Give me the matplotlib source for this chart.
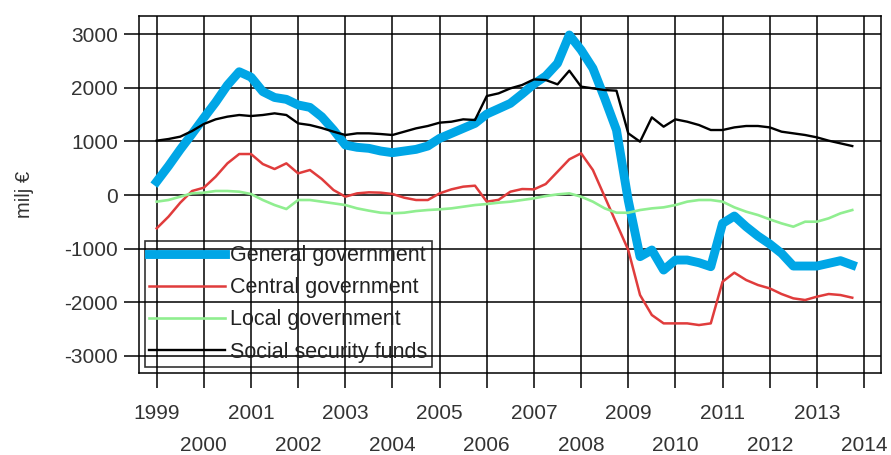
import numpy as np
import matplotlib.pyplot as plt
from matplotlib.ticker import FixedLocator

plt.rcParams['font.family'] = ['Liberation Sans', 'DejaVu Sans']

# quarterly data 1999Q1 .. 2013Q4, milj €
start_year = 1999
n_quarters = 60
general = [250, 540, 850, 1140, 1440, 1730, 2050, 2300, 2200, 1930,
           1820, 1785, 1680, 1635, 1460, 1213, 933, 890, 871, 821,
           790, 821, 852, 914, 1057, 1150, 1244, 1337, 1511, 1610,
           1710, 1885, 2071, 2220, 2457, 2986, 2706, 2364, 1804, 1213,
           -100, -1150, -1026, -1400, -1213, -1213, -1263, -1337, -529, -392,
           -591, -765, -914, -1088, -1325, -1325, -1325, -1275, -1225, -1306]
central = [-622, -404, -143, 75, 137, 342, 591, 765, 765, 578,
           485, 591, 404, 467, 300, 93, -31, 31, 50, 44,
           19, -50, -93, -93, 31, 106, 156, 174, -124, -90,
           62, 112, 106, 205, 435, 666, 778, 467, -31, -529,
           -1026, -1866, -2239, -2395, -2395, -2395, -2426, -2395, -1617, -1449,
           -1586, -1679, -1742, -1847, -1928, -1959, -1897, -1847, -1866, -1916]
local = [-124, -93, -31, 31, 44, 75, 75, 62, 19, -93,
         -187, -261, -93, -93, -124, -155, -187, -249, -292, -330,
         -342, -330, -299, -280, -267, -249, -218, -187, -168, -143,
         -124, -93, -62, -19, 12, 31, -31, -124, -249, -330,
         -330, -280, -249, -230, -187, -124, -93, -93, -124, -230,
         -311, -373, -454, -529, -591, -498, -498, -435, -342, -280]
social = [1014, 1045, 1089, 1194, 1325, 1412, 1462, 1493, 1474, 1493,
          1524, 1493, 1337, 1306, 1250, 1182, 1120, 1151, 1151, 1138,
          1120, 1182, 1244, 1288, 1350, 1368, 1412, 1400, 1847, 1897,
          1990, 2053, 2158, 2146, 2065, 2320, 2022, 1990, 1959, 1947,
          1151, 995, 1449, 1275, 1412, 1368, 1306, 1213, 1213, 1262,
          1288, 1288, 1262, 1182, 1151, 1120, 1076, 1014, 964, 914]
labels = ['General government', 'Central government', 'Local government',
          'Social security funds']
y_ticks = [-3000, -2000, -1000, 0, 1000, 2000, 3000]
odd_years = list(range(1999, 2015, 2))
even_years = list(range(2000, 2015, 2))

t = start_year + np.arange(n_quarters) / 4.0

fig = plt.figure(figsize=(8.91, 4.55), dpi=100)
ax = fig.add_axes([0.156, 0.1802, 0.8328, 0.7846])

ax.plot(t, general, color='#00a6e6', lw=6.4, solid_joinstyle='round', label=labels[0], zorder=3)
ax.plot(t, central, color='#e03c3c', lw=1.8, label=labels[1], zorder=3)
ax.plot(t, local, color='#90ee90', lw=1.9, label=labels[2], zorder=3)
ax.plot(t, social, color='black', lw=1.7, label=labels[3], zorder=3)

ax.set_xlim(1998.625, 2014.36)
ax.set_ylim(-3321, 3340)

ax.set_yticks(y_ticks)
ax.set_yticklabels([str(v) for v in y_ticks])
ax.xaxis.set_major_locator(FixedLocator(odd_years))
ax.xaxis.set_minor_locator(FixedLocator(even_years))
ax.set_xticklabels([str(y) for y in odd_years])
ax.set_xticklabels([str(y) for y in even_years], minor=True)

ax.grid(True, which='both', color='black', lw=1.1, zorder=1)
ax.set_axisbelow(True)
for s in ax.spines.values():
    s.set_linewidth(1.1)

ax.tick_params(axis='y', length=11, width=1.1, pad=4, labelsize=15, labelcolor='#333333')
ax.tick_params(axis='x', which='major', length=10.5, width=1.1, pad=12, labelsize=15, labelcolor='#333333')
ax.tick_params(axis='x', which='minor', length=10.5, width=1.1, pad=35, labelsize=15, labelcolor='#333333')

ax.set_ylabel('milj €', fontsize=14.5, color='#333333', labelpad=22)

leg = ax.legend(loc='lower left', bbox_to_anchor=(0.008, 0.017), borderaxespad=0,
                fontsize=15.5, frameon=True, fancybox=False, facecolor='none',
                edgecolor='black', handlelength=3.5, handletextpad=0.25,
                labelspacing=0.52, borderpad=0.2)
leg.get_frame().set_linewidth(1.2)
for text in leg.get_texts():
    text.set_color('#222222')

fig.savefig('out.png', dpi=100)
